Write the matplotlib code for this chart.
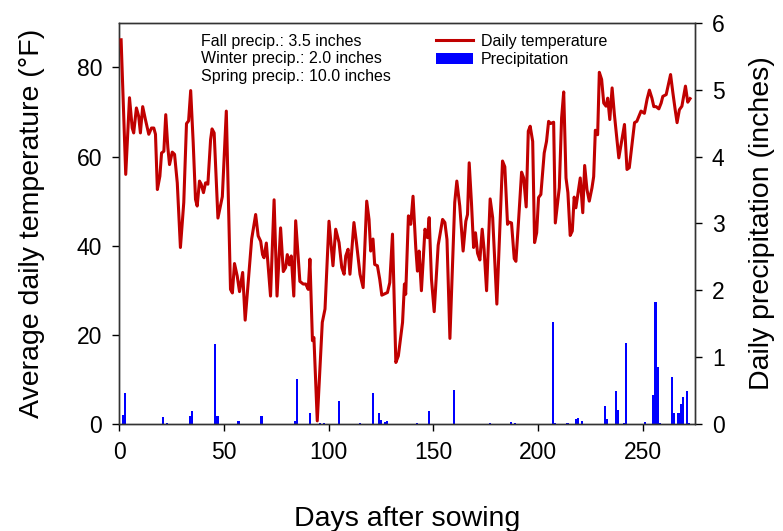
import numpy as np
import matplotlib.pyplot as plt
from matplotlib.lines import Line2D
from matplotlib.patches import Patch

plt.rcParams['font.family'] = ['Liberation Sans', 'DejaVu Sans']

# daily temperature (day, degF)
temp_days = [1, 3.2, 5, 6.3, 7, 8.3, 9.4, 10.2, 11.3, 12.6, 14.2, 15.5, 16.6, 17.4,
             18.3, 19.5, 20.3, 21.4, 22.3, 23.3, 24.1, 25.4, 26.5, 27.8, 29.3, 30.9,
             32.2, 33.2, 34.2, 35.4, 36.5, 37.3, 38.4, 39.2, 40.3, 41.3, 42.4, 43.7,
             44.4, 45.4, 47.2, 49.3, 51.2, 53.2, 54.1, 55.1, 56.4, 57.5, 59, 60.2,
             63.3, 65.2, 66.4, 67.6, 68.5, 69.2, 70.3, 72.3, 74, 75.4, 77.1, 78.4,
             79.5, 80.3, 81.3, 82.2, 83.4, 84.3, 86.3, 87.9, 89.1, 90.3, 91.1, 92.3,
             93, 94.6, 97, 98.3, 100.2, 102.1, 103.4, 105, 106.3, 107.4, 108.2, 109.3,
             110.2, 112.1, 113.3, 115, 116.5, 118.2, 119.3, 120.1, 121.2, 122, 123.3,
             124.4, 125.4, 128.1, 129.2, 130.5, 132.1, 133.3, 135.3, 136.2, 136.8,
             138.1, 139.2, 140.3, 141.6, 142.4, 143.2, 144.3, 146, 147.2, 148, 149.1,
             150.4, 152.3, 154.4, 155.5, 156.5, 157.9, 160.2, 161.2, 162.6, 164.2,
             165.5, 166.3, 167.1, 168.2, 169.2, 170.1, 171.1, 172.2, 173.3, 174.2,
             175.4, 177.1, 178.3, 180.3, 183, 184.1, 185.4, 186.2, 187.3, 188.6,
             189.4, 190.7, 192.1, 193.1, 194.3, 195.3, 196.2, 197.4, 198.3, 199.3,
             200.2, 201.3, 202.9, 204, 205, 205.9, 207.4, 208.2, 210.1, 211.2, 212.2,
             213.3, 214.2, 215.3, 216.3, 217.2, 218, 220.1, 221.3, 222.2, 223.3,
             224.4, 225.7, 226.5, 227.3, 228.4, 229.2, 230.3, 231.3, 232.4, 233.2,
             234.2, 235.3, 236.4, 238.5, 241.2, 242.4, 243.5, 246, 247.1, 249.1,
             250.7, 252, 253.1, 254.3, 255.2, 256.3, 257.6, 258.7, 259.5, 261.1,
             263.2, 264.3, 265.4, 266.3, 267.4, 268.6, 270.3, 271.4, 272.5]
temp_vals = [86.2, 56, 73.2, 66.4, 65.3, 70.9, 69, 65.3, 71.2, 68.3, 65, 66.4, 66.4, 65,
             52.6, 55.6, 60.8, 61.2, 69.4, 62, 58.2, 61, 60.5, 54.1, 39.6, 49.7,
             67.4, 68, 74.8, 63.1, 50.4, 48.9, 54.5, 53.8, 51.9, 54.1, 53.8, 63.8,
             66.2, 65.3, 46.2, 51, 70.2, 30.2, 29.4, 36, 33.2, 29.7, 34, 23.3,
             41.5, 47, 42.2, 41, 38, 37.3, 40.6, 28.7, 50.3, 28.7, 44, 34.2,
             35.1, 38, 35.7, 37.7, 28.7, 45.6, 32, 31.4, 31.4, 30.2, 37, 18.7,
             19.4, 0.7, 22.8, 25.8, 45.5, 35.5, 43.7, 40.7, 35.1, 33.6, 37.7, 39.2,
             33.6, 45.2, 40.7, 33.6, 30.6, 50, 45.9, 38.8, 41.5, 35.8, 35.5,
             32.5, 28.9, 29.5, 31.7, 42.6, 13.8, 15.3, 22.8, 31.4, 29.1,
             46.7, 44.8, 51.1, 39.6, 34.3, 38.8, 29.9, 43.7, 41.8, 46.3, 32.5,
             25.2, 40.1, 45.9, 45.2, 41.4, 19.2, 49.7, 54.5, 48.9, 38.8,
             45.5, 47, 58.6, 49.5, 39.6, 42.9, 38.3, 36.8, 43.7, 39.2,
             29.9, 50.5, 46.3, 26.9, 59, 57.7, 44.8, 45.3, 45.1, 37.1,
             36.5, 45.9, 56.5, 55.2, 48.7, 65.7, 66.8, 63.4, 40.7, 42.9,
             50.8, 51.5, 60.8, 63.4, 67.9, 67.4, 67.7, 45.1, 53, 68.7, 74.5,
             55.2, 51.9, 42.3, 43.3, 50.9, 48.5, 55.2, 47.4, 58, 52.6,
             50, 53, 55.5, 65.9, 64.9, 78.9, 77.3, 72, 71.3, 73.1,
             68.3, 75.4, 69.4, 59.7, 67.2, 57.1, 57.5, 67.6, 67.9, 70.2,
             69.7, 72.9, 74.9, 73.1, 71.2, 71.2, 70.7, 72, 73.5, 73.9,
             78.4, 74.3, 70.5, 67.6, 70.5, 71.3, 75.8, 72.2, 73]

# daily precipitation (day, inches)
rain_days = [2, 3, 21, 23, 34, 35, 46, 47, 57, 68, 84, 85, 91, 96, 98, 105, 115, 121,
             124, 125, 127, 128, 142, 148, 160, 177, 187, 189, 207, 208, 214, 218, 219,
             221, 232, 233, 237, 238, 241, 242, 251, 255, 256, 257, 258, 264, 265, 267,
             268, 269, 271, 272]
rain_vals = [0.13, 0.47, 0.11, 0.02, 0.12, 0.19, 1.19, 0.12, 0.05, 0.12, 0.05, 0.68,
             0.16, 0.02, 0.02, 0.34, 0.01, 0.47, 0.17, 0.06, 0.03, 0.04, 0.01, 0.19,
             0.51, 0.01, 0.03, 0.01, 1.52, 0.01, 0.01, 0.07, 0.085, 0.05, 0.27, 0.07,
             0.49, 0.21, 0.01, 1.21, 0.03, 0.43, 1.82, 0.85, 0.02, 0.71, 0.17, 0.16,
             0.30, 0.41, 0.50, 0.02]

season_notes = ["Fall precip.: 3.5 inches",
                "Winter precip.: 2.0 inches",
                "Spring precip.: 10.0 inches"]

fig = plt.figure(figsize=(7.83, 5.31), dpi=100)
ax = fig.add_axes([0.152, 0.2015, 0.736, 0.7555])
ax2 = ax.twinx()

ax2.bar(rain_days, rain_vals, width=1.0, color='#0000ff', zorder=1)
ax.plot(temp_days, temp_vals, color='#c00000', lw=2.2, zorder=3)
ax.set_zorder(ax2.get_zorder() + 1)
ax.patch.set_visible(False)

ax.set_xlim(0, 275)
ax.set_ylim(0, 90)
ax2.set_ylim(0, 6)
ax.set_xticks([0, 50, 100, 150, 200, 250])
ax.set_yticks([0, 20, 40, 60, 80])
ax2.set_yticks([0, 1, 2, 3, 4, 5, 6])

for a in (ax, ax2):
    a.tick_params(direction='out', length=5, width=1, labelsize=16.5, pad=7)
    for s in a.spines.values():
        s.set_linewidth(1)
        s.set_color('#333333')

ax.set_xlabel('Days after sowing', fontsize=20.5)
ax.xaxis.set_label_coords(0.5, -0.205)
ax.set_ylabel('Average daily temperature (°F)', fontsize=20.5)
ax.yaxis.set_label_coords(-0.128, 0.5)
ax2.set_ylabel('Daily precipitation (inches)', fontsize=20.5)
ax2.yaxis.set_label_coords(1.094, 0.5)

ys = [0.9434, 0.8995, 0.8554]
for t, y in zip(season_notes, ys):
    ax.text(0.1415, y, t, transform=ax.transAxes, fontsize=11.5, va='baseline')

handles = [Line2D([], [], color='#c00000', lw=2.2),
           Patch(facecolor='#0000ff', edgecolor='none')]
ax.legend(handles, ['Daily temperature', 'Precipitation'], loc='upper left',
          bbox_to_anchor=(0.55, 0.9725), frameon=False, fontsize=11.5,
          borderpad=0, borderaxespad=0, handlelength=2.3, handleheight=0.75,
          handletextpad=0.52, labelspacing=0.2)

fig.savefig('out.png', dpi=100)
